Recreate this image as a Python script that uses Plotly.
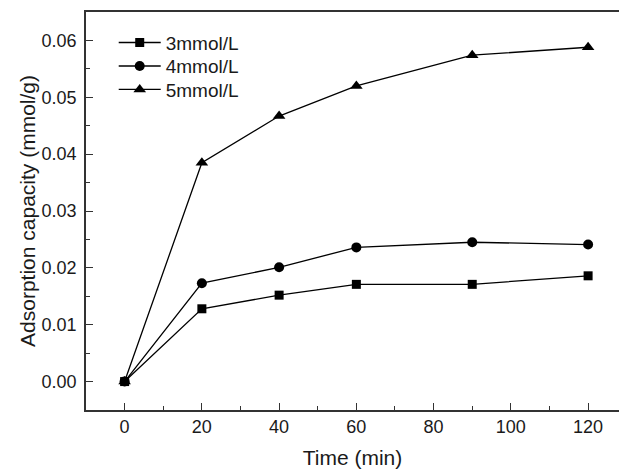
import plotly.graph_objects as go

time_min = [0, 20, 40, 60, 90, 120]
c3 = [0.0, 0.0128, 0.0152, 0.0171, 0.0171, 0.0186]
c4 = [0.0, 0.0173, 0.0201, 0.0236, 0.0245, 0.0241]
c5 = [0.0, 0.0385, 0.0467, 0.0520, 0.0574, 0.0588]
names = ["3mmol/L", "4mmol/L", "5mmol/L"]
symbols = ["square", "circle", "triangle-up"]
sizes = [9, 10, 11]
x_ticks = [0, 20, 40, 60, 80, 100, 120]
y_ticks = [0, 0.01, 0.02, 0.03, 0.04, 0.05, 0.06]

FONT = "Liberation Sans, Arial, sans-serif"
INK = "#1a1a1a"

legend_ids = ["legend", "legend2", "legend3"]
legend_y = [0.923, 0.864, 0.805]

fig = go.Figure()
for name, ys, sym, sz, lid in zip(names, [c3, c4, c5], symbols, sizes, legend_ids):
    fig.add_trace(go.Scatter(
        x=time_min, y=ys, name=name, mode="lines+markers",
        line=dict(color="black", width=1.3),
        marker=dict(symbol=sym, size=sz, color="black"),
        legend=lid,
    ))

axis_common = dict(
    showline=True, linecolor="#333", linewidth=1.5,
    ticks="inside", ticklen=7, tickwidth=1.2, tickcolor="#333",
    showgrid=False, zeroline=False, automargin=False,
    tickfont=dict(family=FONT, size=18, color=INK),
)

fig.update_xaxes(
    range=[-10, 128], tickvals=x_ticks, mirror=True,
    minor=dict(ticks="inside", ticklen=4, tickwidth=1.2, tickcolor="#333", dtick=10, tick0=0),
    ticklabelstandoff=0,
    title=dict(text="Time (min)", font=dict(family=FONT, size=21, color=INK), standoff=14),
    **axis_common,
)
fig.update_yaxes(
    range=[-0.005, 0.065], tickvals=y_ticks, mirror=False,
    tickformat=".2f",
    minor=dict(ticks="inside", ticklen=4, tickwidth=1.2, tickcolor="#333", dtick=0.005, tick0=0),
    ticklabelstandoff=4,
    title=dict(text="Adsorption capacity (mmol/g)", font=dict(family=FONT, size=21, color=INK), standoff=0),
    **axis_common,
)

legend_style = dict(
    x=0.052, xanchor="left", yanchor="middle",
    bgcolor="rgba(0,0,0,0)", borderwidth=0,
    font=dict(family=FONT, size=19, color=INK),
    tracegroupgap=0, itemwidth=42,
)

fig.update_layout(
    width=619, height=470,
    margin=dict(l=86, r=0, t=12, b=60),
    paper_bgcolor="white", plot_bgcolor="white",
    showlegend=True,
    legend=dict(y=legend_y[0], **legend_style),
    legend2=dict(y=legend_y[1], **legend_style),
    legend3=dict(y=legend_y[2], **legend_style),
)

fig.write_html("out.html", config={"displayModeBar": False},
               post_script="document.body.style.margin='0';")
